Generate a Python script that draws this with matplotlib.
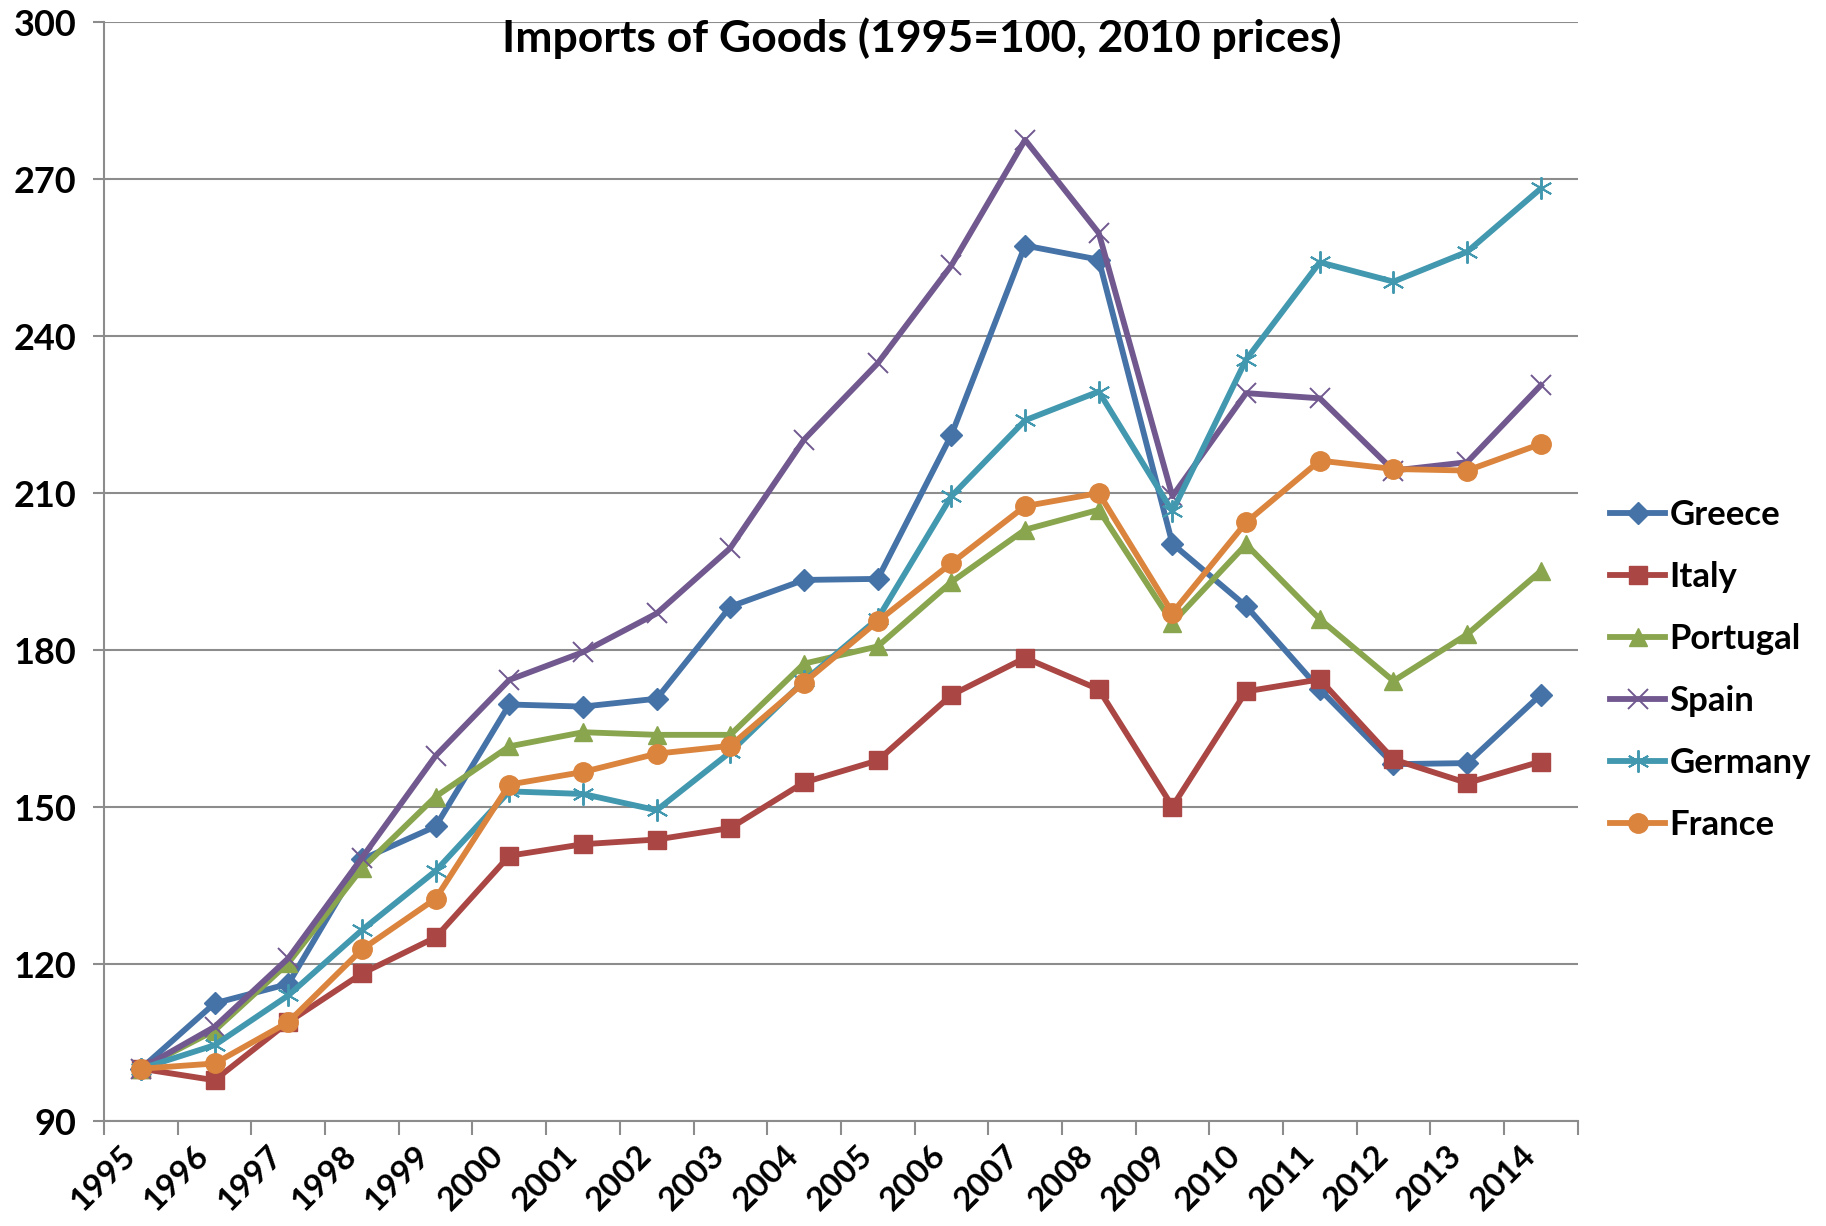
import matplotlib
matplotlib.use("Agg")
import matplotlib.pyplot as plt

plt.rcParams['font.family'] = ['Lato', 'DejaVu Sans']
plt.rcParams['font.weight'] = 'bold'

years = [str(y) for y in range(1995, 2015)]
greece = [100, 112.5, 116.2, 140.0, 146.3, 169.6, 169.2, 170.7, 188.3, 193.4,
          193.6, 221.1, 257.3, 254.6, 200.3, 188.4, 172.5, 158.2, 158.4, 171.5]
italy = [100, 97.8, 108.9, 118.2, 125.1, 140.7, 142.9, 143.8, 146.0, 154.7,
         158.9, 171.4, 178.5, 172.5, 150.1, 172.1, 174.4, 159.1, 154.6, 158.7]
portugal = [100, 107.3, 120.2, 138.3, 152.0, 161.6, 164.3, 163.8, 163.8, 177.4,
            180.7, 193.0, 203.0, 206.8, 185.2, 200.2, 185.9, 174.1, 183.0, 195.1]
spain = [100, 108.0, 121.1, 140.3, 159.8, 174.3, 179.6, 187.0, 199.5, 220.2,
         234.8, 253.5, 277.5, 259.7, 209.4, 229.1, 228.1, 214.3, 215.9, 230.6]
germany = [100, 104.5, 114.0, 126.5, 137.8, 153.0, 152.5, 149.4, 160.5, 174.1,
           186.0, 209.4, 223.9, 229.4, 206.5, 235.5, 254.1, 250.4, 256.1, 268.2]
france = [100, 101.0, 108.9, 122.8, 132.5, 154.3, 156.7, 160.2, 161.7, 173.8,
          185.5, 196.6, 207.5, 210.0, 187.1, 204.4, 216.2, 214.6, 214.3, 219.4]

series = [
    ("Greece", greece, "#4572A7", "D", 11, {}),
    ("Italy", italy, "#AA4643", "s", 13, {}),
    ("Portugal", portugal, "#89A54E", "^", 13, {}),
    ("Spain", spain, "#71588F", "x", 15, {"markeredgewidth": 1.4}),
    ("Germany", germany, "#4198AF", (6, 2, 0), 16, {"markeredgewidth": 1.4}),
    ("France", france, "#DB843D", "o", 14, {}),
]

fig = plt.figure(figsize=(18.26, 12.26), dpi=100)
ax = fig.add_axes([0.057, 0.0856, 0.807, 0.8964])

x = list(range(len(years)))
for name, vals, col, mk, ms, kw in series:
    ax.plot(x, vals, color=col, lw=4.2, marker=mk, markersize=ms,
            markerfacecolor=col, markeredgecolor=col, label=name,
            solid_joinstyle='round', **kw)

ax.set_xlim(-0.5, len(years) - 0.5)
ax.set_ylim(90, 300)
ax.set_yticks(range(90, 301, 30))
ax.yaxis.grid(True, color="#8c8c8c", lw=1.5)
ax.set_axisbelow(True)

ax.set_xticks([i - 0.5 for i in range(len(years) + 1)])
ax.set_xticklabels([])
ax.set_xticks(x, minor=True)
ax.set_xticklabels(years, minor=True, rotation=45, ha='right', va='top',
                   rotation_mode='default', fontsize=24, fontweight='bold')
ax.tick_params(axis='x', which='major', length=10, width=1.5, color="#8c8c8c", direction='out')
ax.tick_params(axis='x', which='minor', length=0, pad=14)
ax.tick_params(axis='y', length=8, width=1.5, color="#8c8c8c", labelsize=26, pad=12)
for lab in ax.get_yticklabels():
    lab.set_fontweight('bold')

for s in ['top', 'right']:
    ax.spines[s].set_visible(False)
for s in ['left', 'bottom']:
    ax.spines[s].set_color("#8c8c8c")
    ax.spines[s].set_linewidth(1.5)

fig.text(0.505, 0.969, "Imports of Goods (1995=100, 2010 prices)", ha='center', va='center',
         fontsize=32, fontweight='bold')

leg = fig.legend(loc='upper left', bbox_to_anchor=(0.874, 0.604), frameon=False,
                 fontsize=25, handlelength=1.6, handletextpad=0.12, labelspacing=0.86,
                 borderaxespad=0)
for t in leg.get_texts():
    t.set_fontweight('bold')

fig.savefig("out.png", dpi=100)
